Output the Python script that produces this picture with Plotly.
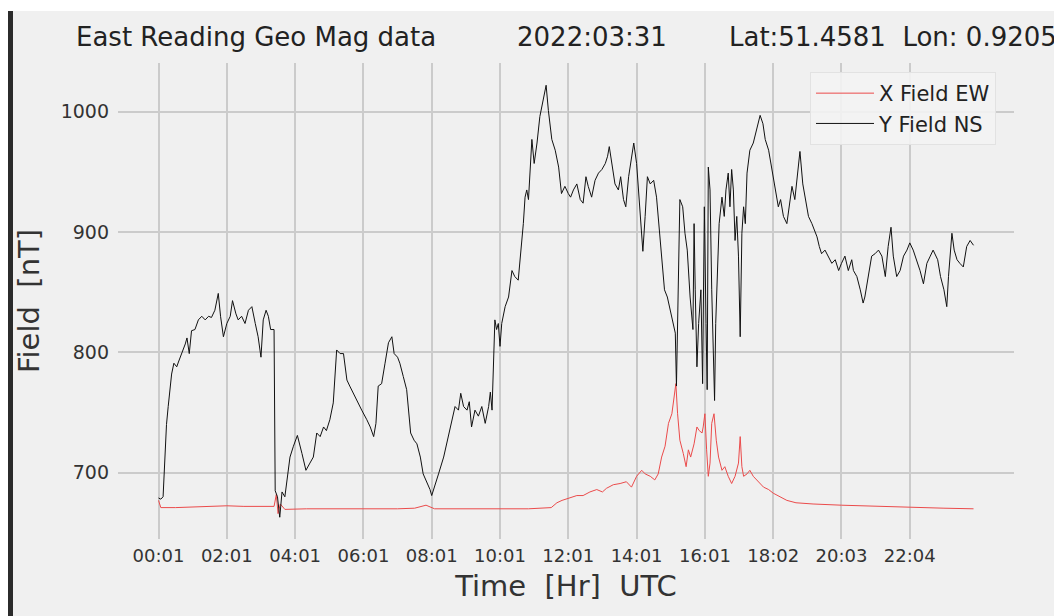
import plotly.graph_objects as go

# ---------------- data ----------------
tick_pos = [0, 120, 240, 360, 480, 600, 720, 840, 960, 1080, 1200, 1320]
tick_labels = ["00:01", "02:01", "04:01", "06:01", "08:01", "10:01",
               "12:01", "14:01", "16:01", "18:02", "20:03", "22:04"]
y_tick_vals = [700, 800, 900, 1000]

# Y Field NS (black): sample index (minutes) and field value [nT]
y_ns_t = [0, 4, 8, 11, 14, 17, 20, 23, 27, 32, 35, 41, 47, 50, 54, 58, 64, 70, 76, 82,
          88, 93, 99, 105, 109, 114, 120, 126, 130, 136, 140, 146, 152, 158, 164, 170, 175, 180, 184, 189,
          193, 197, 203, 205, 209, 213, 217, 222, 231, 237, 244, 252, 259, 266, 272, 278, 284, 290, 295, 301,
          307, 313, 319, 325, 331, 336, 342, 348, 357, 366, 372, 378, 382, 386, 392, 398, 404, 410, 414, 420,
          424, 430, 436, 443, 449, 454, 460, 465, 471, 477, 480, 483, 492, 501, 509, 515, 521, 527, 531, 536,
          542, 546, 550, 556, 562, 568, 574, 580, 583, 586, 588, 591, 594, 597, 600, 603, 609, 615, 621, 626,
          632, 636, 641, 644, 647, 650, 656, 660, 665, 670, 676, 681, 685, 691, 697, 703, 708, 714, 720, 724,
          729, 735, 741, 746, 751, 755, 761, 767, 773, 779, 785, 789, 792, 796, 802, 808, 812, 817, 821, 826,
          831, 835, 840, 843, 847, 851, 855, 859, 864, 870, 875, 880, 884, 889, 894, 899, 904, 908, 910, 913,
          916, 921, 925, 929, 934, 939, 941, 943, 946, 949, 953, 956, 959, 962, 964, 966, 969, 972, 975, 977,
          979, 982, 985, 990, 994, 997, 1001, 1004, 1007, 1010, 1013, 1016, 1019, 1022, 1025, 1028, 1031, 1034, 1039, 1045,
          1051, 1057, 1062, 1066, 1072, 1077, 1083, 1089, 1093, 1098, 1104, 1109, 1113, 1118, 1123, 1127, 1132, 1136, 1142, 1148,
          1152, 1157, 1161, 1165, 1171, 1177, 1183, 1189, 1195, 1200, 1206, 1212, 1218, 1221, 1227, 1233, 1238, 1241, 1247, 1253,
          1259, 1265, 1271, 1277, 1282, 1287, 1291, 1297, 1303, 1309, 1315, 1320, 1326, 1332, 1338, 1344, 1350, 1356, 1361, 1369,
          1374, 1380, 1385, 1388, 1391, 1394, 1398, 1403, 1408, 1414, 1420, 1426, 1432]
y_ns_v = [679, 678, 680, 713, 740, 755, 770, 782, 791, 788, 792, 799, 807, 812, 799, 818, 819, 827, 830, 827,
          830, 829, 835, 849, 830, 813, 824, 830, 843, 832, 827, 830, 824, 835, 838, 824, 813, 796, 827, 835,
          830, 819, 819, 685, 680, 663, 684, 680, 713, 722, 731, 716, 702, 708, 713, 733, 730, 738, 735, 744,
          758, 802, 799, 799, 777, 772, 766, 760, 752, 744, 738, 730, 741, 772, 774, 791, 808, 813, 799, 796,
          791, 780, 769, 733, 727, 724, 713, 699, 693, 686, 681, 686, 699, 713, 730, 744, 755, 752, 766, 755,
          752, 759, 738, 752, 747, 755, 741, 755, 767, 752, 791, 827, 819, 824, 805, 824, 838, 846, 868, 863,
          860, 880, 907, 929, 935, 927, 977, 957, 974, 996, 1010, 1022, 1001, 977, 968, 954, 932, 938, 932, 929,
          935, 940, 927, 924, 946, 938, 929, 943, 949, 952, 957, 963, 971, 957, 940, 935, 946, 927, 921, 946,
          963, 974, 957, 935, 910, 884, 913, 946, 940, 943, 929, 902, 880, 852, 846, 835, 824, 816, 772, 852,
          927, 921, 899, 885, 846, 819, 907, 852, 788, 824, 852, 774, 921, 824, 769, 954, 935, 852, 782, 760,
          824, 863, 907, 929, 913, 935, 949, 921, 952, 935, 893, 913, 880, 813, 899, 921, 907, 949, 968, 974,
          985, 997, 990, 977, 968, 954, 935, 921, 927, 913, 907, 927, 938, 927, 949, 967, 940, 929, 913, 907,
          902, 896, 888, 882, 885, 880, 874, 877, 868, 874, 880, 868, 877, 868, 863, 852, 841, 846, 863, 880,
          882, 885, 880, 863, 888, 904, 880, 863, 868, 880, 885, 891, 885, 877, 868, 857, 874, 880, 885, 877,
          863, 852, 838, 863, 885, 899, 885, 877, 874, 871, 888, 893, 889]

# X Field EW (red)
x_ew_t = [0, 4, 30, 60, 90, 120, 150, 180, 203, 207, 210, 214, 222, 260, 300, 340, 380, 420, 450, 470,
          485, 530, 600, 650, 690, 700, 709, 723, 735, 746, 758, 770, 780, 787, 799, 811, 822, 831, 840, 849,
          855, 864, 872, 878, 884, 890, 896, 902, 906, 909, 912, 916, 922, 927, 931, 935, 941, 946, 950, 955,
          957, 960, 963, 966, 969, 972, 976, 980, 984, 990, 995, 1001, 1007, 1013, 1019, 1022, 1025, 1028, 1034, 1039,
          1045, 1051, 1057, 1063, 1072, 1080, 1092, 1104, 1120, 1150, 1200, 1260, 1320, 1380, 1432]
x_ew_v = [677, 671, 671, 671.5, 672, 672.5, 672, 672, 672, 682, 666, 674, 669.5, 670, 670, 669.5, 670, 670, 670.5, 673,
          670, 670, 670, 670, 671, 675, 677, 679, 681, 681, 684, 686, 684, 687, 690, 691, 692.5, 688, 697, 702,
          699, 697, 694, 699, 713, 722, 741, 749, 763, 774, 749, 727, 716, 705, 719, 713, 724, 738, 735, 733,
          738, 749, 719, 697, 708, 741, 749, 727, 713, 702, 705, 697, 691, 697, 708, 730, 705, 697, 699, 702,
          697, 694, 691, 688, 686, 683, 680, 677, 675, 674, 673, 672, 671, 670.5, 670]

# ---------------- figure ----------------
# The page body adds an 8 px margin, so the figure is 8 px smaller than the window.
W, H = 1054, 608
L, R, T, B = 110, 48, 55, 77
PW, PH = W - L - R, H - T - B


def px(xp):
    return (xp - L) / PW


def py(yp):
    return (H - B - yp) / PH


fig = go.Figure()
fig.add_trace(go.Scatter(x=x_ew_t, y=x_ew_v, mode="lines", name="X Field EW",
                         line=dict(color="rgb(235,75,75)", width=1)))
fig.add_trace(go.Scatter(x=y_ns_t, y=y_ns_v, mode="lines", name="Y Field NS",
                         line=dict(color="#111111", width=1)))

font_main = "DejaVu Sans, Verdana, sans-serif"

fig.update_layout(
    width=W, height=H,
    margin=dict(l=L, r=R, t=T, b=B),
    paper_bgcolor="#f0f0f0",
    plot_bgcolor="#f0f0f0",
    font=dict(family=font_main, color="#333333", size=19),
    showlegend=True,
    legend=dict(x=px(802), y=py(64), xanchor="left", yanchor="top",
                bgcolor="rgba(243,243,243,0.9)", bordercolor="#e2e2e2", borderwidth=1,
                font=dict(size=21, color="#222222"), tracegroupgap=2, itemwidth=58),
    xaxis=dict(range=[-71.2, 1503.1], tickmode="array", tickvals=tick_pos, ticktext=tick_labels,
               showgrid=True, gridcolor="#cbcbcb", gridwidth=1.6, zeroline=False, showline=False,
               ticks="", tickfont=dict(size=18, color="#333333"), ticklabelstandoff=4,
               title=dict(text="Time  [Hr]  UTC", font=dict(size=29, color="#333333"), standoff=10)),
    yaxis=dict(range=[644.9, 1040.5], tickmode="array", tickvals=y_tick_vals,
               showgrid=True, gridcolor="#cbcbcb", gridwidth=1.6, zeroline=False, showline=False,
               ticks="", tickfont=dict(size=19, color="#333333"), ticklabelstandoff=8,
               title=dict(text="Field  [nT]", font=dict(size=29, color="#333333"), standoff=12)),
    shapes=[
        dict(type="rect", xref="paper", yref="paper", x0=px(-5), x1=px(W + 5), y0=py(3), y1=py(-5),
             fillcolor="white", line=dict(width=0), layer="below"),
        dict(type="rect", xref="paper", yref="paper", x0=px(-1), x1=px(5), y0=py(H + 5), y1=py(3),
             fillcolor="#2b2b2b", line=dict(width=0), layer="below"),
    ],
    annotations=[
        dict(text="East Reading Geo Mag data", xref="paper", yref="paper", x=px(66), y=py(29),
             xanchor="left", yanchor="middle", showarrow=False, font=dict(size=26, color="#222222")),
        dict(text="2022:03:31", xref="paper", yref="paper", x=px(583.5), y=py(29),
             xanchor="center", yanchor="middle", showarrow=False, font=dict(size=26, color="#222222")),
        dict(text="Lat:51.4581  Lon: 0.9205", xref="paper", yref="paper", x=px(1051), y=py(29),
             xanchor="right", yanchor="middle", showarrow=False, font=dict(size=26, color="#222222")),
    ],
)

fig.write_html("out.html")
